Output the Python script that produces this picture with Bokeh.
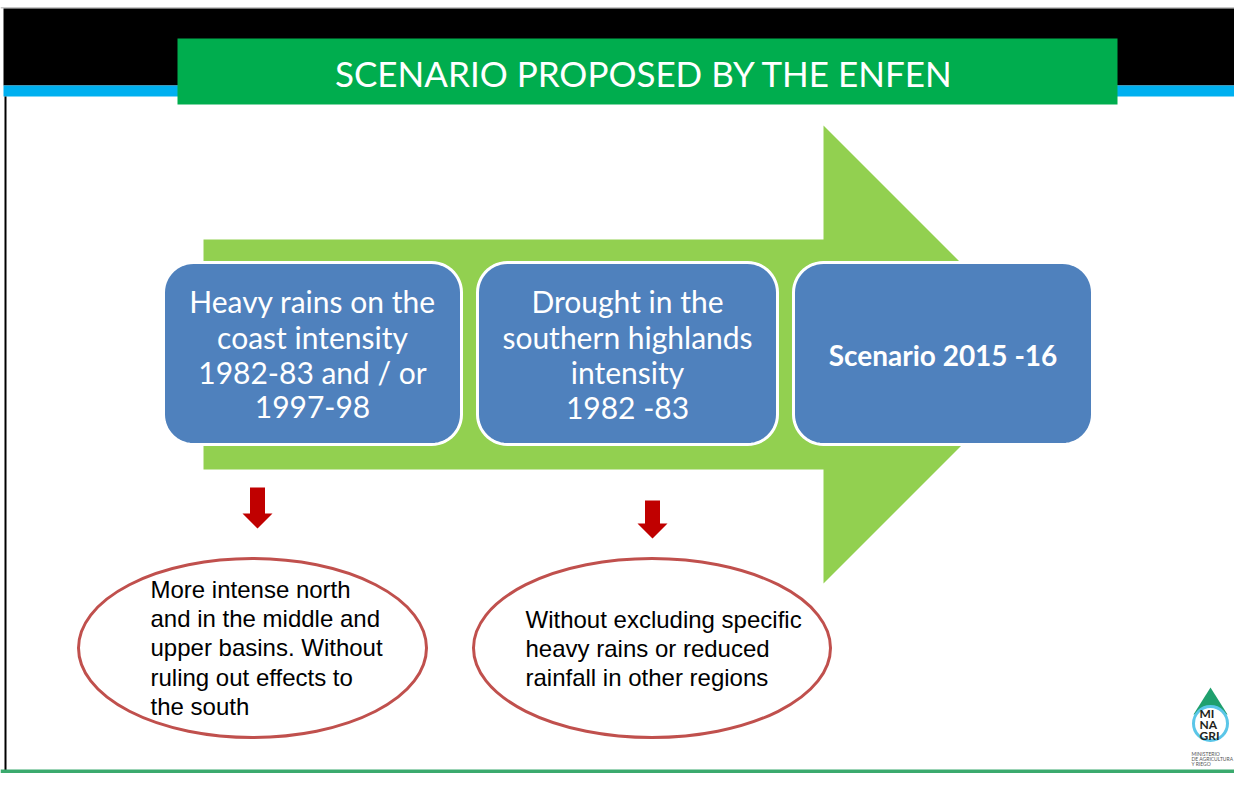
import numpy as np
from bokeh.plotting import figure
from bokeh.models import Range1d
from bokeh.core.properties import value
from bokeh.embed import file_html
from bokeh.resources import INLINE

# ---------------- content ----------------
title_text = "SCENARIO PROPOSED BY THE ENFEN"
box_lines = [
    ["Heavy rains on the", "coast intensity", "1982-83 and / or", "1997-98"],
    ["Drought in the", "southern highlands", "intensity", "1982 -83"],
    ["Scenario 2015 -16"],
]
box_bold = [False, False, True]
ellipse_lines = [
    ["More intense north", "and in the middle and", "upper basins. Without",
     "ruling out effects to", "the south"],
    ["Without excluding specific", "heavy rains or reduced", "rainfall in other regions"],
]
logo_big = ["MI", "NA", "GRI"]
logo_small = ["MINISTERIO", "DE AGRICULTURA", "Y RIEGO"]

# ---------------- layout (reference pixel space, y downwards) ----------------
box_x = [(163, 461), (477, 777), (793, 1092)]
box_y = (262, 444)
box_line_y = [[300, 336, 371, 406], [300, 336, 371, 406], [354]]
box_font = ["30px", "30px", "28px"]
ell_geom = [(252, 647.5, 348, 179), (651.5, 647.5, 357, 179)]
ell_text_x = [150, 525]
ell_text_y = [[589, 618, 647, 677, 706], [619, 648, 677]]
red_arrows = [(257, 487, 513, 528), (652, 500, 523, 538)]

p = figure(width=1234, height=773, x_range=Range1d(0, 1234), y_range=Range1d(773, 0),
           output_backend="svg", toolbar_location=None, min_border=0,
           x_axis_location=None, y_axis_location=None)
p.grid.visible = False
p.outline_line_color = None
p.background_fill_color = "white"
p.border_fill_color = "white"

# header band
p.quad(left=0, right=1250, top=6.5, bottom=8, fill_color="#C8C8C8", line_color=None)
p.quad(left=3, right=1250, top=8, bottom=85, fill_color="black", line_color=None)
p.quad(left=3, right=1250, top=85, bottom=96, fill_color="#00B0F0", line_color=None)
p.quad(left=177, right=1117, top=38, bottom=104, fill_color="#00AD4E", line_color=None)
p.text(x=[644], y=[72], text=[title_text], text_font=value("Lato"),
       text_font_size=value("35px"), text_color="white",
       text_align="center", text_baseline="middle")

# left border and bottom rule
p.quad(left=4, right=6, top=96, bottom=773, fill_color="black", line_color=None)
p.quad(left=0, right=1250, top=769, bottom=773, fill_color="#3BAA6E", line_color=None)

# big green arrow
p.patch(x=[203, 823, 823, 1052, 823, 823, 203],
        y=[239, 239, 125, 354, 583, 469, 469],
        fill_color="#92D050", line_color=None)

def rounded(x0, y0, x1, y1, r, n=14):
    xs, ys = [], []
    corners = [(x1 - r, y0 + r, -np.pi / 2, 0), (x1 - r, y1 - r, 0, np.pi / 2),
               (x0 + r, y1 - r, np.pi / 2, np.pi), (x0 + r, y0 + r, np.pi, 1.5 * np.pi)]
    for cx, cy, a0, a1 in corners:
        t = np.linspace(a0, a1, n)
        xs.extend(cx + r * np.cos(t))
        ys.extend(cy + r * np.sin(t))
    return xs, ys

for (x0, x1), lines, ly, bold, fs in zip(box_x, box_lines, box_line_y, box_bold, box_font):
    xs, ys = rounded(x0, box_y[0], x1, box_y[1], 30)
    p.patch(x=xs, y=ys, fill_color="#4F81BD", line_color="white", line_width=3)
    cx = (x0 + x1) / 2
    p.text(x=[cx] * len(lines), y=ly, text=lines, text_font=value("Lato"),
           text_font_size=value(fs), text_color="white",
           text_font_style="bold" if bold else "normal",
           text_align="center", text_baseline="middle")

# red down arrows
for cx, yt, yn, yp in red_arrows:
    p.patch(x=[cx - 7.5, cx + 7.5, cx + 7.5, cx + 15, cx, cx - 15, cx - 7.5],
            y=[yt, yt, yn, yn, yp, yn, yn], fill_color="#C00000", line_color=None)

# ellipses with text
for (ex, ey, ew, eh), tx, tys, lines in zip(ell_geom, ell_text_x, ell_text_y, ellipse_lines):
    p.ellipse(x=[ex], y=[ey], width=[ew], height=[eh], fill_color="white",
              line_color="#C0504D", line_width=3)
    p.text(x=[tx] * len(lines), y=tys, text=lines, text_font=value("Liberation Sans"),
           text_font_size=value("24px"), text_color="black",
           text_align="left", text_baseline="middle")

# MINAGRI logo
p.patch(x=[1193, 1227, 1210], y=[714, 714, 687], fill_color="#1FA06E", line_color=None)
p.circle(x=[1210], y=[723], radius=17, fill_color="white", line_color="#5BC6E8", line_width=3)
p.text(x=[1199] * 3, y=[713, 724, 735], text=logo_big, text_font=value("Lato"),
       text_font_size=value("12px"), text_font_style="bold", text_color="#231F20",
       text_align="left", text_baseline="middle")
p.text(x=[1191] * 3, y=[753, 758, 763], text=logo_small, text_font=value("Lato"),
       text_font_size=value("5px"), text_color="#555555",
       text_align="left", text_baseline="middle")

open("out.html", "w").write(file_html(p, INLINE))
